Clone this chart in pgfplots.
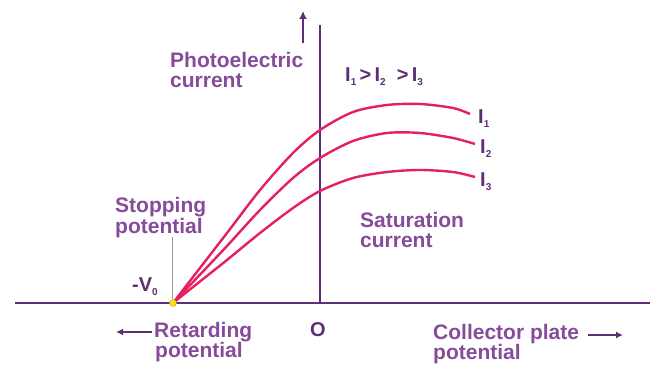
\documentclass[border=0pt]{standalone}
\usepackage{fontspec}
\setmainfont{Liberation Sans}
\usepackage{pgfplots}
\pgfplotsset{compat=1.18}
\usetikzlibrary{arrows.meta}

\definecolor{axiscol}{RGB}{95,45,115}
\definecolor{txtcol}{RGB}{135,75,155}
\definecolor{curvecol}{RGB}{228,32,95}

\newcommand\sub[1]{\raisebox{-4pt}{\fontsize{10}{10}\selectfont #1}}

\tikzset{
  lbl/.style={text=txtcol, anchor=base west, inner sep=0pt, font=\bfseries\fontsize{21}{20}\selectfont},
  blbl/.style={text=axiscol, anchor=base west, inner sep=0pt, font=\bfseries\fontsize{20}{20}\selectfont},
}

% pixel coordinates of the reference: x = px - 320, y = 303 - py
\begin{document}
\begin{tikzpicture}
\useasboundingbox (0,0) rectangle (658pt,371pt);
\begin{axis}[
    at={(320pt,68pt)},
    anchor=origin,
    x=1pt, y=1pt,
    xmin=-305, xmax=330,
    ymin=0, ymax=278,
    enlargelimits=false,
    axis lines=middle,
    axis line style={-, line width=2.6pt, color=axiscol},
    ticks=none,
    clip=false,
]

\addplot[curvecol, line width=2.4pt, smooth] coordinates {
(-147,0) (-127,26) (-93,70) (-60,113) (-27,150) (0,173) (33,191) (67,198) (100,199) (133,195) (150,189)
};
\addplot[curvecol, line width=2.4pt, smooth] coordinates {
(-147,0) (-127,21) (-93,57) (-60,93) (-27,125) (0,145) (33,162) (67,170) (100,170) (133,165) (155,159)
};
\addplot[curvecol, line width=2.4pt, smooth] coordinates {
(-147,0) (-127,16) (-93,43) (-60,70) (-27,95) (0,112) (33,125) (67,131) (100,133) (133,131) (155,126)
};

\addplot[only marks, mark=*, mark size=3.5pt, mark options={fill=yellow!85!orange, draw=olive!70}]
  coordinates {(-147,0)};

% leader for stopping potential
\draw[gray!80, line width=0.8pt] (axis cs:-148,66) -- (axis cs:-148,4);
% arrow beside the current axis
\draw[axiscol, line width=2pt, -{Latex[length=8pt,width=8pt]}] (axis cs:-17,260) -- (axis cs:-17,292);

\node[lbl] at (axis cs:-150,235) {Photoelectric};
\node[lbl] at (axis cs:-150,215) {current};
\node[blbl] at (axis cs:25,221) {I\sub{1}\,>\,I\sub{2}\ \ >\,I\sub{3}};
\node[blbl] at (axis cs:158,179) {I\sub{1}};
\node[blbl] at (axis cs:160,149) {I\sub{2}};
\node[blbl] at (axis cs:160,116) {I\sub{3}};
\node[lbl] at (axis cs:-205,90) {Stopping};
\node[lbl] at (axis cs:-205,69) {potential};
\node[lbl] at (axis cs:40,75) {Saturation};
\node[lbl] at (axis cs:40,55) {current};
\node[blbl] at (axis cs:-188,11) {-V\sub{0}};
\node[blbl, anchor=center] at (axis cs:-2,-27) {O};

\draw[axiscol, line width=1.8pt, -{Latex[length=7pt,width=7pt]}] (axis cs:-168,-29) -- (axis cs:-204,-29);
\node[lbl] at (axis cs:-166,-35) {Retarding};
\node[lbl] at (axis cs:-165,-55) {potential};
\node[lbl] at (axis cs:113,-37) {Collector plate};
\draw[axiscol, line width=1.8pt, -{Latex[length=7pt,width=7pt]}] (axis cs:268,-32) -- (axis cs:303,-32);
\node[lbl] at (axis cs:113,-57) {potential};

\end{axis}
\end{tikzpicture}
\end{document}
